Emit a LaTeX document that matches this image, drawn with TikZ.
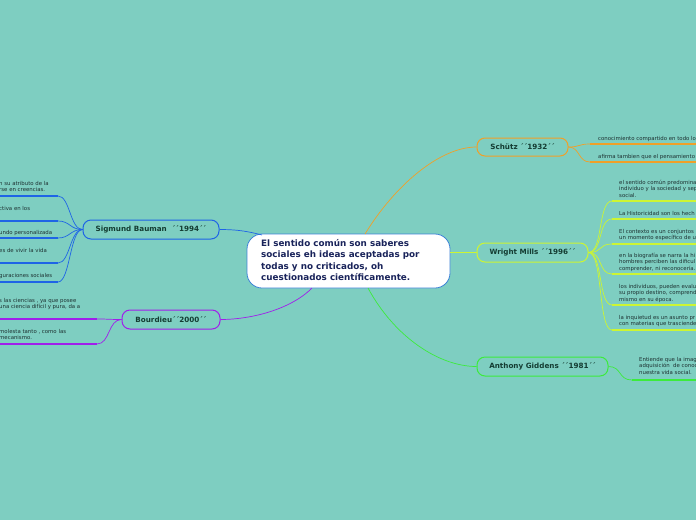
\documentclass[tikz,border=0pt]{standalone}
\usepackage{fontspec}
\setmainfont{DejaVu Sans}
\definecolor{bg}{RGB}{126,206,193}
\definecolor{cblue}{RGB}{60,130,215}
\definecolor{corange}{RGB}{240,160,40}
\definecolor{sblue}{RGB}{30,100,230}
\definecolor{cpurple}{RGB}{160,30,235}
\definecolor{clime}{RGB}{205,245,50}
\definecolor{cgreen}{RGB}{60,235,60}
\definecolor{navy}{RGB}{25,35,90}
\definecolor{topictext}{RGB}{20,60,50}
\definecolor{leaftext}{RGB}{30,50,50}
\tikzset{
  topic/.style={draw, line width=1pt, rounded corners=8pt, fill=bg, text=topictext,
    font=\fontsize{7.2}{8.5}\selectfont\bfseries, minimum height=19pt, inner sep=0pt},
  leaf/.style={anchor=base west, inner sep=0pt, align=left, text=leaftext,
    font=\fontsize{5.4}{6.6}\selectfont},
  uline/.style={line width=1.6pt},
  conn/.style={line width=0.7pt},
}
\begin{document}
\begin{tikzpicture}[x=1pt,y=-1pt]
\useasboundingbox (0,0) rectangle (696,520);
\fill[bg] (0,0) rectangle (696,520);
\clip (0,0) rectangle (696,520);

% central node
\node[draw=cblue, line width=0.8pt, fill=white, rounded corners=15pt,
  minimum width=203pt, minimum height=54pt, inner sep=0pt] (c) at (348.5,261) {};
\node[anchor=north west, inner sep=0pt, align=left, text=navy,
  font=\fontsize{8.8}{11.4}\selectfont\bfseries] (ctext) at (261,239)
  {El sentido común son saberes\\sociales eh ideas aceptadas por\\todas y no criticados, oh\\cuestionados científicamente.};

% topic nodes
\node[topic, draw=sblue, minimum width=136pt] (sig) at (151,229.5) {Sigmund Bauman \ ´´1994´´};
\node[topic, draw=cpurple, minimum width=98pt] (bou) at (171,319.5) {Bourdieu´´2000´´};
\node[topic, draw=corange, minimum width=91pt, minimum height=18pt] (sch) at (522.5,147) {Schütz ´´1932´´};
\node[topic, draw=clime, minimum width=111pt] (wri) at (532.5,252.5) {Wright Mills ´´1996´´};
\node[topic, draw=cgreen, minimum width=131pt] (gid) at (542.5,366.5) {Anthony Giddens ´´1981´´};

% central connectors
\coordinate (cN1) at (365,234);
\coordinate (cS1) at (368,288);
\coordinate (cS2) at (312,288);
\coordinate (cNW) at (262,235);
\draw[conn, corange] (cN1) .. controls (395,185) and (440,147) .. (sch.west);
\draw[conn, clime] (c.east |- wri.west) -- (wri.west);
\draw[conn, cgreen] (cS1) .. controls (395,338) and (440,366.5) .. (gid.west);
\draw[conn, sblue] (sig.east) .. controls (240,229.5) and (250,232) .. (cNW);
\draw[conn, cpurple] (cS2) .. controls (290,310) and (250,319.5) .. (bou.east);

% Schütz leaves
\foreach \y/\t [count=\i] in {140/{conocimiento compartido en todo lo}, 158/{afirma tambien que el pensamiento}}{
  \node[leaf] (s\i) at (598,\y) {\t};
  \coordinate (su\i) at (590,\y+4);
  \draw[uline, corange] (su\i) -- (696,\y+4);
  \draw[conn, corange] (sch.east) .. controls (580,147) and (578,\y+4) .. (su\i);
}

% Wright Mills leaves (base = last line)
\node[leaf] (w1) at (619,197.2) {el sentido común predomina\\individuo y la sociedad y sep\\social.};
\node[leaf] (w2) at (619,215) {La Historicidad son los hech};
\node[leaf] (w3) at (619,239.6) {El contexto es un conjuntos\\un momento específico de u};
\node[leaf] (w4) at (619,270.2) {en la biografía se narra la hi\\hombres perciben las dificul\\comprender, ni reconocería.};
\node[leaf] (w5) at (619,301.2) {los individuos, pueden evalu\\su propio destino, comprend\\mismo en su época.};
\node[leaf] (w6) at (619,325.6) {la inquietud es un asunto pr\\con materias que trasciende};
\foreach \y [count=\i] in {201,219,244,274,305,330}{
  \coordinate (wu\i) at (612,\y);
  \draw[uline, clime] (wu\i) -- (696,\y);
  \draw[conn, clime] (wri.east) .. controls (603,252.5) and (598,\y) .. (wu\i);
}

% Giddens leaf
\node[leaf] (g1) at (639,374.2) {Entiende que la imag\\adquisición \ de conoc\\nuestra vida social.};
\coordinate (gu1) at (632,380);
\draw[uline, cgreen] (gu1) -- (696,380);
\draw[conn, cgreen] (gid.east) .. controls (622,366.5) and (618,380) .. (gu1);

% Sigmund leaves
\node[leaf] (l1) at (-1,191.6) {n su atributo de la\\rse en creencias.};
\node[leaf] (l2) at (-1,210) {ctiva en los};
\node[leaf] (l3) at (-1,234) {undo personalizada};
\node[leaf] (l4) at (-1,252) {es de vivir la vida};
\node[leaf] (l5) at (-1,277) {guraciones sociales};
\foreach \y [count=\i] in {196,221,238,263,282}{
  \coordinate (lu\i) at (58,\y);
  \draw[uline, sblue] (0,\y) -- (lu\i);
  \draw[conn, sblue] (lu\i) .. controls (70,\y) and (70,229.5) .. (sig.west);
}

% Bourdieu leaves
\node[leaf] (b1) at (-1,308.6) {s las ciencias , ya que posee\\una ciencia difícil y pura, da a};
\node[leaf] (b2) at (-1,339.6) {molesta tanto , como las\\mecanismo.};
\foreach \y [count=\i] in {319,344}{
  \coordinate (bu\i) at (97,\y);
  \draw[uline, cpurple] (0,\y) -- (bu\i);
  \draw[conn, cpurple] (bu\i) .. controls (110,\y) and (108,319.5) .. (bou.west);
}
\end{tikzpicture}
\end{document}
